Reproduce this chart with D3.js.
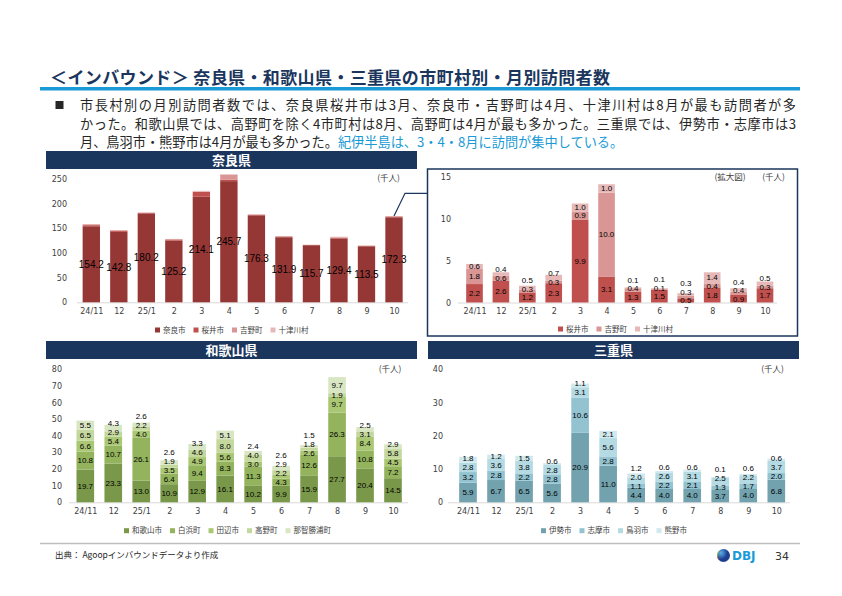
<!DOCTYPE html>
<html>
<head>
<meta charset="utf-8">
<script src="https://cdn.jsdelivr.net/npm/d3@7"></script>
<style>
body{margin:0;background:#fff;}
svg{display:block;font-family:"Noto Sans CJK JP","Noto Sans",sans-serif;}
</style>
</head>
<body>
<svg id="slide" width="842" height="596"></svg>
<script>
// ---- data (千人) ----
const months = ["24/11","12","25/1","2","3","4","5","6","7","8","9","10"];

const naraKeys = ["奈良市","桜井市","吉野町","十津川村"];
const naraCity  = [154.2,142.8,180.2,125.2,214.1,245.7,176.3,131.9,115.7,129.4,113.5,172.3];
const sakurai   = [2.2,2.6,1.2,2.3,9.9,3.1,1.3,1.5,0.5,1.8,0.9,1.7];
const yoshino   = [1.8,0.6,0.3,0.3,0.9,10.0,0.4,0.1,0.3,0.4,0.4,0.3];
const totsukawa = [0.6,0.4,0.5,0.7,1.0,1.0,0.1,0.1,0.3,1.4,0.4,0.5];

const wakaKeys = ["和歌山市","白浜町","田辺市","高野町","那智勝浦町"];
const wakayamaCity = [19.7,23.3,13.0,10.9,12.9,16.1,10.2,9.9,15.9,27.7,20.4,14.5];
const shirahama    = [10.8,10.7,26.1,6.4,9.4,8.3,11.3,4.3,12.6,26.3,10.8,7.2];
const tanabe       = [6.6,5.4,4.0,3.5,4.9,5.6,3.0,2.2,2.6,9.7,8.4,4.5];
const koya         = [6.5,2.9,2.2,1.9,4.6,8.0,4.0,2.9,1.8,1.9,3.1,5.8];
const nachikatsuura= [5.5,4.3,2.6,2.6,3.3,5.1,2.4,2.6,1.5,9.7,2.5,2.9];

const mieKeys = ["伊勢市","志摩市","鳥羽市","熊野市"];
const ise   = [5.9,6.7,6.5,5.6,20.9,11.0,4.4,4.0,4.0,3.7,4.0,6.8];
const shima = [3.2,2.8,2.2,2.8,10.6,2.8,1.1,2.2,2.1,1.3,1.7,2.0];
const toba  = [2.8,3.6,3.8,2.8,3.1,5.6,2.0,2.6,3.1,2.5,2.2,3.7];
const kumano= [1.8,1.2,1.5,0.6,1.1,2.1,1.2,0.6,0.6,0.1,0.6,0.6];

const naraTicks  = [0,50,100,150,200,250];
const insetTicks = [0,5,10,15];
const wakaTicks  = [0,10,20,30,40,50,60,70,80];
const mieTicks   = [0,10,20,30,40];

const svg = d3.select("#slide");
const NAVY = "#1b365d";

// ---- title & text ----
svg.append("text").attr("x",50).attr("y",83.5)
  .attr("font-size",17).attr("font-weight",700).attr("fill",NAVY)
  .attr("textLength",560).attr("lengthAdjust","spacing")
  .text("＜インバウンド＞ 奈良県・和歌山県・三重県の市町村別・月別訪問者数");
svg.append("rect").attr("x",40).attr("y",87).attr("width",760).attr("height",3.5).attr("fill","#1a9ad6");

svg.append("rect").attr("x",55.5).attr("y",101).attr("width",8).attr("height",8).attr("fill","#262626");
const body = svg.append("g").attr("font-size",13.2).attr("fill","#262626");
body.append("text").attr("x",80).attr("y",110)
  .attr("textLength",716).attr("lengthAdjust","spacing")
  .text("市長村別の月別訪問者数では、奈良県桜井市は3月、奈良市・吉野町は4月、十津川村は8月が最も訪問者が多");
body.append("text").attr("x",80).attr("y",128.5)
  .attr("textLength",716).attr("lengthAdjust","spacing")
  .text("かった。和歌山県では、高野町を除く4市町村は8月、高野町は4月が最も多かった。三重県では、伊勢市・志摩市は3");
const l3 = body.append("text").attr("x",80).attr("y",146.5);
l3.append("tspan").text("月、鳥羽市・熊野市は4月が最も多かった。");
l3.append("tspan").attr("fill","#1a9ad6").text("紀伊半島は、3・4・8月に訪問が集中している。");

// ---- header bars ----
function header(x, y, w, label){
  svg.append("rect").attr("x",x).attr("y",y).attr("width",w).attr("height",18).attr("fill",NAVY);
  svg.append("text").attr("x",x+w/2).attr("y",y+14).attr("text-anchor","middle")
    .attr("font-size",13).attr("font-weight",700).attr("fill","#fff").text(label);
}
header(46,151,371,"奈良県");
header(46,341,371,"和歌山県");
header(428,341,371,"三重県");

// ---- stacked chart ----
function stackChart(cfg){
  const g = svg.append("g");
  const rows = months.map((m,i)=>{
    const r = {month:m};
    cfg.keys.forEach((k,j)=>{ r[k] = cfg.values[j][i]; });
    return r;
  });
  const layers = d3.stack().keys(cfg.keys)(rows);
  const x = d3.scalePoint().domain(months).range(cfg.xr);
  const bw = x.step()*0.63;
  const y = d3.scaleLinear().domain([0,cfg.max]).range(cfg.yr);
  const color = d3.scaleOrdinal().domain(cfg.keys).range(cfg.colors);

  g.append("line")
    .attr("x1",cfg.base[0]).attr("x2",cfg.base[1])
    .attr("y1",y(0)+0.5).attr("y2",y(0)+0.5)
    .attr("stroke","#d9d9d9").attr("stroke-width",1);

  const ya = g.append("g").attr("transform",`translate(${cfg.tickX},0)`)
    .call(d3.axisLeft(y).tickValues(cfg.ticks).tickSize(0).tickPadding(0));
  ya.select(".domain").remove();
  ya.selectAll("text").attr("font-family","DejaVu Sans").attr("font-size",8).attr("fill","#404040");

  const xa = g.append("g").attr("transform",`translate(0,${y(0)+6})`)
    .call(d3.axisBottom(x).tickSize(0).tickPadding(0));
  xa.select(".domain").remove();
  xa.selectAll("text").attr("font-family","DejaVu Sans").attr("font-size",8).attr("fill","#404040");

  g.selectAll("g.layer").data(layers).join("g").attr("class","layer")
    .attr("fill",d=>color(d.key))
    .selectAll("rect").data(d=>d).join("rect")
      .attr("x",d=>x(d.data.month)-bw/2)
      .attr("width",bw)
      .attr("y",d=>y(d[1]))
      .attr("height",d=>Math.max(0,y(d[0])-y(d[1])));

  // data labels, pushed apart inside each bar
  const lab = g.append("g").attr("font-family","Liberation Sans").attr("font-size",cfg.labelSize)
    .attr("fill","#000").attr("text-anchor","middle");
  months.forEach((m,i)=>{
    let prev = Infinity;
    cfg.labelLayers.forEach(li=>{
      const d = layers[li][i];
      let cy = y((d[0]+d[1])/2);
      cy = Math.min(cy, prev - cfg.gap);
      prev = cy;
      lab.append("text").attr("x",x(m)).attr("y",cy).attr("dy","0.35em")
        .text(d3.format(".1f")(d[1]-d[0]));
    });
  });

  // unit
  g.append("text").attr("x",cfg.unit[0]).attr("y",cfg.unit[1])
    .attr("font-size",8.5).attr("fill","#404040").attr("text-anchor","middle").text("(千人)");

  // legend
  const leg = g.append("g").attr("font-size",7.5).attr("fill","#404040");
  let lx = cfg.legend[0];
  cfg.keys.forEach(k=>{
    leg.append("rect").attr("x",lx).attr("y",cfg.legend[1]-2.5).attr("width",5).attr("height",5).attr("fill",color(k));
    const t = leg.append("text").attr("x",lx+8).attr("y",cfg.legend[1]).attr("dy","0.35em").text(k);
    lx += 8 + t.node().getComputedTextLength() + 8;
  });
  return {x, y, layers, bw};
}

// Nara main
const nara = stackChart({
  keys: naraKeys, values: [naraCity,sakurai,yoshino,totsukawa],
  colors: ["#953735","#c0504d","#d99694","#e6b9b8"],
  xr: [91.3,394], yr: [302.3,179], max: 250, ticks: naraTicks,
  base: [77,408], tickX: 67, labelLayers: [0], labelSize: 10, gap: 9,
  unit: [388.5,181], legend: [155,330]
});

// inset (zoom)
svg.append("rect").attr("x",427.5).attr("y",169).attr("width",370).attr("height",167)
  .attr("fill","none").attr("stroke",NAVY).attr("stroke-width",1.5);
stackChart({
  keys: naraKeys.slice(1), values: [sakurai,yoshino,totsukawa],
  colors: ["#c0504d","#d99694","#e6b9b8"],
  xr: [474.5,765], yr: [302.5,176.7], max: 15, ticks: insetTicks,
  base: [458,777], tickX: 451, labelLayers: [0,1,2], labelSize: 8, gap: 8.5,
  unit: [773.5,180], legend: [558,329]
});
svg.append("text").attr("x",730).attr("y",180).attr("text-anchor","middle")
  .attr("font-size",8.5).attr("fill","#404040").text("(拡大図)");

// leader line from Nara Oct bar to inset
const lastTop = nara.y(d3.sum(nara.layers, l=>l[11][1]-l[11][0]));
svg.append("path")
  .attr("d",`M${nara.x("10")},${lastTop} L405,193.3 L427.5,193.3`)
  .attr("fill","none").attr("stroke",NAVY).attr("stroke-width",1.2);

// Wakayama
stackChart({
  keys: wakaKeys, values: [wakayamaCity,shirahama,tanabe,koya,nachikatsuura],
  colors: ["#7a9849","#93b35d","#aac774","#c4d89e","#d9e6c3"],
  xr: [85.3,393], yr: [502.3,369.3], max: 80, ticks: wakaTicks,
  base: [69,408], tickX: 62, labelLayers: [0,1,2,3,4], labelSize: 8, gap: 9,
  unit: [390,371.5], legend: [124,530.7]
});

// Mie
stackChart({
  keys: mieKeys, values: [ise,shima,toba,kumano],
  colors: ["#72a2ae","#93c3d0","#b4dae4","#cfe9ef"],
  xr: [468,776.3], yr: [502.3,369.3], max: 40, ticks: mieTicks,
  base: [448,790], tickX: 443, labelLayers: [0,1,2,3], labelSize: 8, gap: 9,
  unit: [772.5,371.5], legend: [541,530.7]
});

// ---- footer ----
svg.append("line").attr("x1",40).attr("x2",800).attr("y1",543.5).attr("y2",543.5)
  .attr("stroke","#bfbfbf").attr("stroke-width",1.5);
svg.append("text").attr("x",55).attr("y",558).attr("font-size",8.5).attr("fill","#262626")
  .text("出典： Agoopインバウンドデータより作成");

const defs = svg.append("defs");
const lg = defs.append("linearGradient").attr("id","dbjL").attr("x1","0").attr("x2","0").attr("y1","0").attr("y2","1");
lg.append("stop").attr("offset","0").attr("stop-color","#f6c21a");
lg.append("stop").attr("offset","0.45").attr("stop-color","#7cc242");
lg.append("stop").attr("offset","0.7").attr("stop-color","#e8502a");
lg.append("stop").attr("offset","1").attr("stop-color","#2a7bc4");
const rg = defs.append("radialGradient").attr("id","dbjR").attr("cx","0.3").attr("cy","0.3");
rg.append("stop").attr("offset","0").attr("stop-color","#5fb0e8");
rg.append("stop").attr("offset","1").attr("stop-color","#1d3f8f");
svg.append("circle").attr("cx",723.5).attr("cy",555.5).attr("r",6.5).attr("fill","url(#dbjR)");
svg.append("path").attr("d","M722,549.2 A6.5,6.5 0 0 0 722,561.8 A4,6.3 0 0 1 722,549.2 Z").attr("fill","url(#dbjL)");
svg.append("text").attr("x",732).attr("y",560).attr("font-family","DejaVu Sans").attr("font-weight",700)
  .attr("font-size",12).attr("fill","#1a9bd7").text("DBJ");
svg.append("text").attr("x",775).attr("y",560).attr("font-family","DejaVu Sans")
  .attr("font-size",11).attr("fill","#333").text("34");
</script>
</body>
</html>
